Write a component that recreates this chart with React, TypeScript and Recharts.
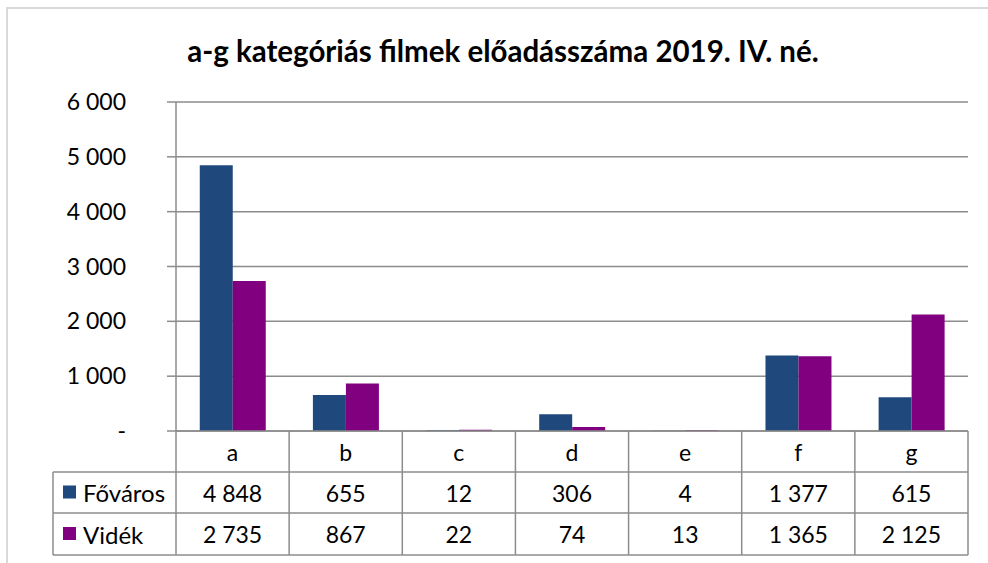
import { BarChart, Bar, XAxis, YAxis, CartesianGrid } from 'recharts'

const categories = ['a', 'b', 'c', 'd', 'e', 'f', 'g']
const fovaros = [4848, 655, 12, 306, 4, 1377, 615]
const videk = [2735, 867, 22, 74, 13, 1365, 2125]
const yTicks = [0, 1000, 2000, 3000, 4000, 5000, 6000]
const seriesNames = ['Főváros', 'Vidék']

const COLORS = ['#1F497D', '#800080']
const LINE = '#8c8c8c'
const FONT = 'Lato, "Noto Sans", sans-serif'

const W = 988
const H = 563
const Y_AXIS_W = 176
const MARGIN = { top: 102, right: 20, bottom: 8, left: 0 }
const PLOT_BOTTOM = 431
const ROW1 = 472
const ROW2 = 513
const TABLE_BOTTOM = 555
const LEGEND_LEFT = 53
const colW = (W - MARGIN.right - Y_AXIS_W) / categories.length

const data = categories.map((c, i) => ({ name: c, fovaros: fovaros[i], videk: videk[i] }))

const fmt = (v: number) => (v === 0 ? '-' : v.toString().replace(/\B(?=(\d{3})+(?!\d))/g, ' '))

function TableTick(props: any) {
  const { x, index } = props
  const left = x - colW / 2
  const right = x + colW / 2
  const tableRight = left + colW * (categories.length - index)
  const textProps = { fontSize: 23, fill: '#000', fontFamily: FONT, textAnchor: 'middle' as const, dominantBaseline: 'central' as const }
  return (
    <g>
      <line x1={right} y1={PLOT_BOTTOM} x2={right} y2={TABLE_BOTTOM} stroke={LINE} strokeWidth={1.5} />
      {index === 0 && (
        <g>
          <line x1={left} y1={PLOT_BOTTOM} x2={left} y2={TABLE_BOTTOM} stroke={LINE} strokeWidth={1.5} />
          <line x1={LEGEND_LEFT} y1={ROW1} x2={LEGEND_LEFT} y2={TABLE_BOTTOM} stroke={LINE} strokeWidth={1.5} />
          {[ROW1, ROW2, TABLE_BOTTOM].map((yy) => (
            <line key={yy} x1={LEGEND_LEFT} y1={yy} x2={tableRight} y2={yy} stroke={LINE} strokeWidth={1.5} />
          ))}
          {seriesNames.map((n, si) => {
            const cy = si === 0 ? (ROW1 + ROW2) / 2 : (ROW2 + TABLE_BOTTOM) / 2
            return (
              <g key={n}>
                <rect x={63} y={cy - 7} width={13} height={13} fill={COLORS[si]} />
                <text x={83} y={cy} fontSize={24} fontFamily={FONT} fill="#000" dominantBaseline="central">{n}</text>
              </g>
            )
          })}
        </g>
      )}
      <text x={x} y={(PLOT_BOTTOM + ROW1) / 2} {...textProps}>{categories[index]}</text>
      <text x={x} y={(ROW1 + ROW2) / 2} {...textProps}>{fmt(fovaros[index])}</text>
      <text x={x} y={(ROW2 + TABLE_BOTTOM) / 2} {...textProps}>{fmt(videk[index])}</text>
    </g>
  )
}

export default function App() {
  return (
    <div style={{ position: 'absolute', left: 0, top: 0, width: W, height: H, background: '#fff', overflow: 'hidden' }}>
      <div style={{ position: 'absolute', left: 6, top: 7, width: 1010, height: 600, border: '2px solid #d9d9d9' }} />
      <div style={{ position: 'absolute', left: 0, top: 33, width: 1006, textAlign: 'center', fontFamily: FONT, fontWeight: 700, fontSize: 29.5, color: '#000' }}>
        a-g kategóriás filmek előadásszáma 2019. IV. né.
      </div>
      <div style={{ position: 'absolute', left: 0, top: 0 }}>
        <BarChart width={W} height={H} data={data} margin={MARGIN} barCategoryGap="21%" barGap={0}>
          <CartesianGrid vertical={false} stroke={LINE} strokeWidth={1.5} />
          <XAxis dataKey="name" height={TABLE_BOTTOM - PLOT_BOTTOM} axisLine={{ stroke: LINE, strokeWidth: 1.5 }} tickLine={false} tick={<TableTick />} interval={0} />
          <YAxis
            width={Y_AXIS_W}
            domain={[0, 6000]}
            ticks={yTicks}
            tickFormatter={fmt}
            axisLine={{ stroke: LINE, strokeWidth: 1.5 }}
            tickLine={{ stroke: LINE, strokeWidth: 1.5 }}
            tickSize={9}
            tickMargin={41}
            tick={{ fontSize: 23, fill: '#000', fontFamily: FONT }}
          />
          <Bar dataKey="fovaros" name={seriesNames[0]} fill={COLORS[0]} isAnimationActive={false} />
          <Bar dataKey="videk" name={seriesNames[1]} fill={COLORS[1]} isAnimationActive={false} />
        </BarChart>
      </div>
    </div>
  )
}
